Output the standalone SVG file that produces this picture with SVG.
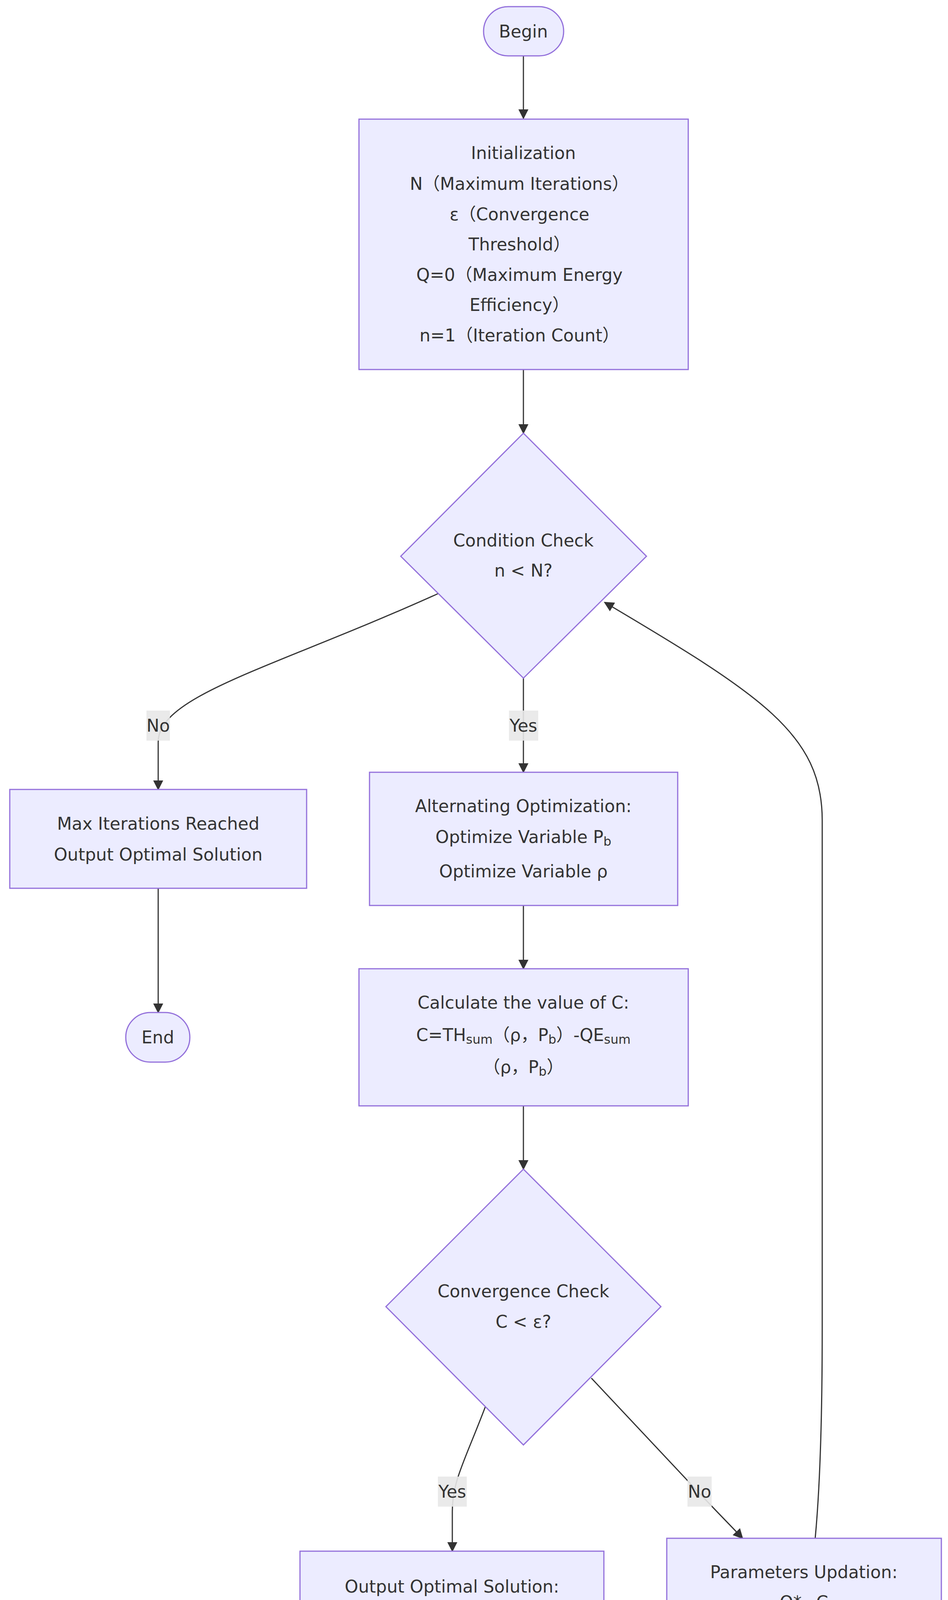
<svg xmlns="http://www.w3.org/2000/svg" width="2427" height="4576" viewBox="0 0 2427 4576">
<style>
.n{fill:#ECECFF;stroke:#9370DB;stroke-width:3}
text{font-family:"DejaVu Sans","Noto Sans CJK SC",sans-serif;font-size:44px;fill:#333;text-anchor:middle;dominant-baseline:central}
.e{fill:none;stroke:#333;stroke-width:3}
.lb{fill:#e8e8e8;opacity:0.9}
.s{font-size:32px}
</style>
<defs><marker id="ah" viewBox="0 0 10 10" refX="9" refY="5" markerWidth="26" markerHeight="26" markerUnits="userSpaceOnUse" orient="auto"><path d="M0,0L10,5L0,10z" fill="#333"/></marker></defs>
<g id="edges">
<path class="e" marker-end="url(#ah)" d="M1340,143L1340,303"/>
<path class="e" marker-end="url(#ah)" d="M1340,946L1340,1109"/>
<path class="e" marker-end="url(#ah)" d="M1123,1519C700,1710 405,1780 405,1900L405,2021"/>
<path class="e" marker-end="url(#ah)" d="M405,2274L405,2592"/>
<path class="e" marker-end="url(#ah)" d="M1340,1736L1340,1977"/>
<path class="e" marker-end="url(#ah)" d="M1340,2318L1340,2480"/>
<path class="e" marker-end="url(#ah)" d="M1340,2831L1340,2993"/>
<path class="e" marker-end="url(#ah)" d="M1243,3600C1190,3740 1158,3790 1158,3870L1158,3971"/>
<path class="e" marker-end="url(#ah)" d="M1514,3528L1760,3790C1830,3865 1870,3905 1901,3938"/>
<path class="e" marker-end="url(#ah)" d="M1158,4236L1158,4431"/>
<path class="e" marker-end="url(#ah)" d="M2087,3938C2100,3800 2105,3600 2105,3400L2105,2100C2105,1880 1950,1780 1548,1542"/>
<rect class="lb" x="375" y="1819" width="60" height="77"/><text x="405" y="1857">No</text>
<rect class="lb" x="1303" y="1819" width="75" height="77"/><text x="1340" y="1857">Yes</text>
<rect class="lb" x="1121" y="3780" width="74" height="77"/><text x="1158" y="3818">Yes</text>
<rect class="lb" x="1760" y="3780" width="62" height="77"/><text x="1791" y="3818">No</text>
</g>
<g id="begin"><rect class="n" x="1238" y="17" width="205" height="126" rx="63"/><text x="1340" y="80">Begin</text></g>
<g id="init"><rect class="n" x="919" y="305" width="843" height="641"/>
<text x="1340" y="391">Initialization</text>
<text x="1330" y="470">N（Maximum Iterations）</text>
<text x="1330" y="548">ε（Convergence</text>
<text x="1330" y="625">Threshold）</text>
<text x="1330" y="703">Q=0（Maximum Energy</text>
<text x="1330" y="780">Efficiency）</text>
<text x="1330" y="858">n=1（Iteration Count）</text></g>
<g id="cond"><polygon class="n" points="1340,1109 1655,1424 1340,1736 1026,1424"/>
<text x="1340" y="1383">Condition Check</text><text x="1340" y="1460">n &lt; N?</text></g>
<g id="max"><rect class="n" x="25" y="2021" width="760" height="253"/>
<text x="405" y="2108">Max Iterations Reached</text><text x="405" y="2187">Output Optimal Solution</text></g>
<g id="end1"><rect class="n" x="322" y="2592" width="164" height="127" rx="63"/><text x="404" y="2655">End</text></g>
<g id="alt"><rect class="n" x="946" y="1977" width="789" height="341"/>
<text x="1340" y="2063">Alternating Optimization:</text>
<text x="1340" y="2142">Optimize Variable P<tspan class="s" dy="12">b</tspan></text>
<text x="1340" y="2230">Optimize Variable ρ</text></g>
<g id="calc"><rect class="n" x="919" y="2480" width="843" height="351"/>
<text x="1340" y="2566">Calculate the value of C:</text>
<text x="1340" y="2649">C=TH<tspan class="s" dy="12">sum</tspan><tspan dy="-12">（ρ，P</tspan><tspan class="s" dy="12">b</tspan><tspan dy="-12">）-QE</tspan><tspan class="s" dy="12">sum</tspan></text>
<text x="1340" y="2731">（ρ，P<tspan class="s" dy="12">b</tspan><tspan dy="-12">）</tspan></text></g>
<g id="conv"><polygon class="n" points="1340,2993 1692,3345 1340,3699 988,3345"/>
<text x="1340" y="3305">Convergence Check</text><text x="1340" y="3383">C &lt; ε?</text></g>
<g id="out"><rect class="n" x="768" y="3971" width="778" height="265"/>
<text x="1157" y="4061">Output Optimal Solution:</text>
<text x="1157" y="4138">Q*, P<tspan class="s" dy="12">b</tspan><tspan dy="-12"> * , ρ*</tspan></text></g>
<g id="params"><rect class="n" x="1707" y="3938" width="703" height="330"/>
<text x="2058" y="4024">Parameters Updation:</text><text x="2058" y="4101">Q*=C</text><text x="2058" y="4179">n=n+1</text></g>
<g id="end2"><rect class="n" x="1074" y="4431" width="164" height="126" rx="63"/><text x="1156" y="4494">End</text></g>
</svg>
